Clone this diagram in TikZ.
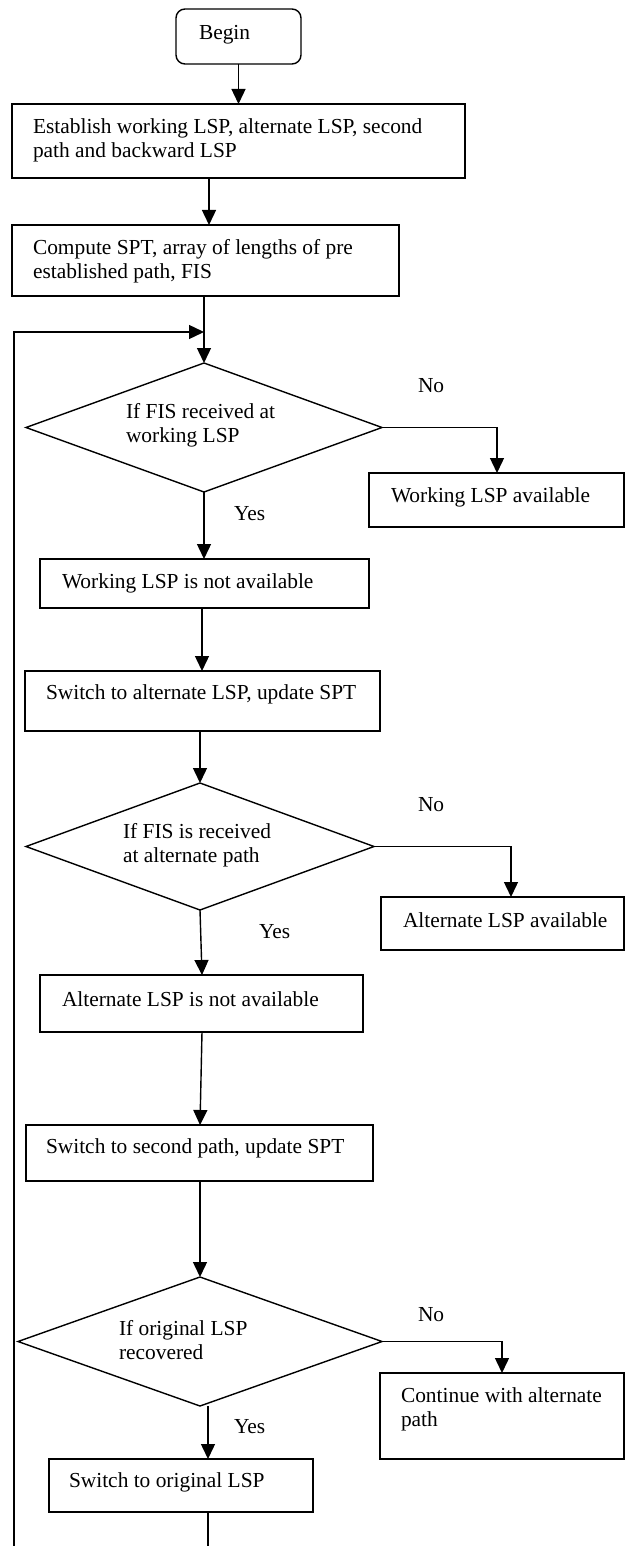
\documentclass[tikz,border=0pt]{standalone}
\usepackage{fontspec}
\setmainfont{Liberation Serif}
\usetikzlibrary{shapes.geometric,arrows.meta}
\begin{document}
\begin{tikzpicture}[x=1pt,y=-1pt,
  boxn/.style={draw,line width=1.4pt,inner sep=0pt,outer sep=0pt,rectangle},
  dia/.style={draw,diamond,line width=1.4pt,inner sep=0pt,outer sep=0pt},
  txt/.style={anchor=west,inner sep=0pt,outer sep=0pt,align=left,font=\fontsize{21.4}{24}\selectfont},
  arr/.style={line width=1.4pt,-{Triangle[length=15pt,width=14pt]}},
  ln/.style={line width=1.4pt}]
\useasboundingbox (0,0) rectangle (626,1546);
% helper x positions
\coordinate (x209) at (209,0);
\coordinate (x497) at (497,0);
\coordinate (x202) at (202,0);
\coordinate (x511) at (511,0);
\coordinate (x502) at (502,0);
\coordinate (x208) at (208,0);
\coordinate (loopbot) at (14,1546);
\coordinate (loopturn) at (14,332);
\coordinate (endbot) at (208,1546);
% nodes
\node[boxn,rounded corners=9pt,minimum width=125pt,minimum height=55pt] (begin) at (238.5,36.5) {};
\node[txt] (tbegin) at (199,35) {Begin};
\node[boxn,minimum width=453pt,minimum height=74pt] (b1) at (238.5,141) {};
\node[txt] (tb1) at (33,140) {Establish working LSP, alternate LSP, second\\path and backward LSP};
\node[boxn,minimum width=387pt,minimum height=71pt] (b2) at (205.5,260.5) {};
\node[txt] (tb2) at (33,261) {Compute SPT, array of lengths of pre\\established path, FIS};
\node[dia,minimum width=356pt,minimum height=129pt] (d1) at (204,427.5) {};
\node[txt] (td1) at (126,425) {If FIS received at\\working LSP};
\node[txt] (no1) at (418,386) {No};
\node[boxn,minimum width=255pt,minimum height=54pt] (wla) at (496.5,500) {};
\node[txt] (twla) at (391,497) {Working LSP available};
\node[txt] (yes1) at (234,514) {Yes};
\node[boxn,minimum width=329pt,minimum height=49pt] (wna) at (204.5,583.5) {};
\node[txt] (twna) at (62,583) {Working LSP is not available};
\node[boxn,minimum width=355pt,minimum height=60pt] (sal) at (202.5,701) {};
\node[txt] (tsal) at (46,694) {Switch to alternate LSP, update SPT};
\node[dia,minimum width=348pt,minimum height=127pt] (d2) at (200,846.5) {};
\node[txt] (td2) at (123,845) {If FIS is received\\at alternate path};
\node[txt] (no2) at (418,805) {No};
\node[boxn,minimum width=243pt,minimum height=53pt] (ala) at (502.5,923.5) {};
\node[txt] (tala) at (403,920) {Alternate LSP available};
\node[txt] (yes2) at (259,932) {Yes};
\node[boxn,minimum width=323pt,minimum height=57pt] (ana) at (201.5,1003.5) {};
\node[txt] (tana) at (62,999) {Alternate LSP is not available};
\node[boxn,minimum width=347pt,minimum height=56pt] (ssp) at (199.5,1153) {};
\node[txt] (tssp) at (46,1148) {Switch to second path, update SPT};
\node[dia,minimum width=364pt,minimum height=129pt] (d3) at (200,1341.5) {};
\node[txt] (td3) at (119,1340) {If original LSP\\recovered};
\node[txt] (no3) at (418,1315) {No};
\node[boxn,minimum width=244pt,minimum height=86pt] (cwa) at (502,1416) {};
\node[txt] (tcwa) at (401,1409) {Continue with alternate\\path};
\node[txt] (yes3) at (234,1427) {Yes};
\node[boxn,minimum width=264pt,minimum height=53pt] (sol) at (181,1485.5) {};
\node[txt] (tsol) at (69,1482) {Switch to original LSP};
% connectors
\draw[arr] (begin.south) -- (b1.north -| begin.south);
\draw[arr] (b1.south -| x209) -- (b2.north -| x209);
\draw[arr] (b2.south -| d1.north) -- (d1.north);
\draw[arr] (loopbot) -- (loopturn) -- (loopturn -| d1.north);
\draw[arr] (d1.east) -- (d1.east -| x497) -- (wla.north -| x497);
\draw[arr] (d1.south) -- (wna.north -| d1.south);
\draw[arr] (wna.south -| x202) -- (sal.north -| x202);
\draw[arr] (sal.south -| d2.north) -- (d2.north);
\draw[arr] (d2.east) -- (d2.east -| x511) -- (ala.north -| x511);
\draw[arr] (d2.south) -- (ana.north -| x202);
\draw[arr] (ana.south -| x202) -- (ssp.north -| d3.north);
\draw[arr] (ssp.south -| d3.north) -- (d3.north);
\draw[arr] (d3.east) -- (d3.east -| x502) -- (cwa.north -| x502);
\draw[arr] (d3.south -| x208) -- (sol.north -| x208);
\draw[ln] (sol.south -| x208) -- (endbot);
\end{tikzpicture}
\end{document}
